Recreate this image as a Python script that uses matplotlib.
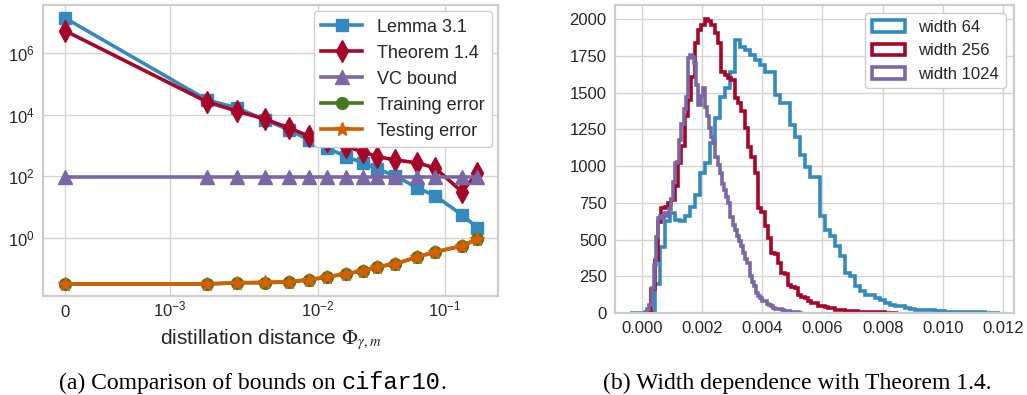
import numpy as np
import matplotlib
matplotlib.use("Agg")
import matplotlib.pyplot as plt
from matplotlib.ticker import NullLocator, FixedLocator

plt.rcParams['font.family'] = ['Liberation Sans', 'DejaVu Sans']
plt.rcParams['mathtext.fontset'] = 'custom'
plt.rcParams['mathtext.rm'] = 'Liberation Sans'
plt.rcParams['mathtext.it'] = 'Liberation Sans:italic'
plt.rcParams['mathtext.bf'] = 'Liberation Sans:bold'

# ---------------- data: (a) comparison of bounds ----------------
distance = [0, 1.78e-3, 2.84e-3, 4.38e-3, 6.37e-3, 8.69e-3, 1.18e-2, 1.66e-2,
            2.26e-2, 2.92e-2, 4.04e-2, 6.03e-2, 8.33e-2, 0.136, 0.179]
lemma31 = [1.4e7, 3.0e4, 1.66e4, 6.8e3, 3.2e3, 1.5e3, 830, 430, 270, 174,
           102, 42, 23, 5.5, 2.1]
theorem14 = [5.4e6, 2.6e4, 1.3e4, 7.2e3, 3.7e3, 2.0e3, 1.4e3, 910, 620, 430,
             340, 270, 186, 31, 129]
vc_bound = [95] * 15
train_err = [0.031, 0.031, 0.034, 0.034, 0.036, 0.042, 0.052, 0.066, 0.083,
             0.112, 0.138, 0.234, 0.339, 0.537, 0.912]
test_err = [0.031, 0.031, 0.034, 0.035, 0.037, 0.043, 0.053, 0.067, 0.084,
            0.113, 0.140, 0.236, 0.341, 0.540, 0.915]
series_labels = ['Lemma 3.1', 'Theorem 1.4', 'VC bound', 'Training error', 'Testing error']
xtick_vals = [0, 1e-3, 1e-2, 1e-1]
xtick_labels = ['0', '$10^{-3}$', '$10^{-2}$', '$10^{-1}$']
ytick_vals = [1, 1e2, 1e4, 1e6]
ytick_labels = ['$10^{0}$', '$10^{2}$', '$10^{4}$', '$10^{6}$']

# ---------------- data: (b) width dependence histograms ----------------
w64_start, w64_width = -0.00039, 0.0001658
w64_counts = [0, 0, 0, 0, 5, 200, 450, 623, 680, 635, 625, 660, 720, 800, 950,
              1020, 1157, 1325, 1473, 1531, 1644, 1859, 1814, 1791, 1757, 1723,
              1689, 1644, 1644, 1485, 1429, 1429, 1282, 1201, 1077, 997, 929,
              929, 660, 567, 521, 453, 385, 272, 249, 181, 147, 124, 124, 102,
              86, 70, 56, 45, 45, 34, 30, 22, 22, 20, 18, 15, 12, 10, 10, 8, 8,
              6, 5, 5, 4, 3, 3, 2]
w256_start, w256_width = 0.00021, 0.0001106
w256_counts = [5, 165, 360, 620, 714, 725, 748, 770, 862, 1020, 1134, 1338, 1450,
               1610, 1837, 1928, 1961, 2000, 1990, 1961, 1905, 1837, 1644, 1621,
               1600, 1587, 1463, 1429, 1372, 1259, 1133, 1065, 952, 714, 691,
               589, 510, 408, 400, 340, 272, 265, 193, 177, 170, 125, 110, 102,
               79, 70, 68, 50, 45, 42, 34, 32, 22, 20, 18, 16, 15, 13, 12, 10,
               9, 8, 7, 6, 5, 5, 4, 3, 3, 2, 2]
w1024_start, w1024_width = 0.000043, 0.0000708
w1024_counts = [3, 8, 25, 53, 170, 330, 520, 650, 660, 645, 680, 660, 705, 775,
                890, 1020, 1030, 1180, 1290, 1390, 1470, 1735, 1758, 1740, 1700,
                1550, 1415, 1480, 1531, 1405, 1338, 1260, 1201, 1157, 1065, 1010,
                952, 880, 839, 790, 748, 657, 600, 567, 521, 490, 453, 408, 370,
                340, 249, 210, 181, 136, 115, 102, 85, 79, 62, 56, 45, 34, 30,
                28, 24, 20, 16, 13, 11, 10, 8, 6, 5, 3, 2]
hist_labels = ['width 64', 'width 256', 'width 1024']
hist_xticks = [0.000, 0.002, 0.004, 0.006, 0.008, 0.010, 0.012]
hist_yticks = [0, 250, 500, 750, 1000, 1250, 1500, 1750, 2000]

colors = ['#348ABD', '#A60628', '#7A68A6', '#467821', '#D55E00']
W, H = 1027, 395

# custom x scale: linear near zero, log-like (uneven decades) above 1e-3
def fwd(x):
    x = np.asarray(x, dtype=float)
    lx = np.log10(np.maximum(x, 1e-3))
    part = np.interp(lx, [-3, -2, -1], [0, 148, 275]) + np.where(lx > -1, (lx + 1) * 127, 0)
    return np.where(x <= 1e-3, x * 105e3, 105 + part)

def inv(y):
    y = np.asarray(y, dtype=float)
    r = y - 105
    lx = np.where(r <= 148, -3 + r / 148, -2 + (r - 148) / 127)
    return np.where(y <= 105, y / 105e3, 10 ** np.clip(lx, -8, 8))

fig = plt.figure(figsize=(W / 100, H / 100), dpi=100)
ax1 = fig.add_axes([43 / W, 1 - 296 / H, 455 / W, 291 / H])
ax2 = fig.add_axes([615 / W, 1 - 313 / H, 399 / W, 308 / H])

for ax in (ax1, ax2):
    ax.set_facecolor('white')
    for s in ax.spines.values():
        s.set_color('#cccccc')
        s.set_linewidth(1.6)
    ax.grid(True, color='#d3d3d3', linewidth=1.0)
    ax.set_axisbelow(True)
    ax.tick_params(length=0, labelsize=12, labelcolor='#262626', pad=6)

# ---- left panel
ax1.set_xscale('function', functions=(fwd, inv))
ax1.set_yscale('log')
markers = ['s', 'd', '^', 'o', '*']
msizes = [9, 11, 9.5, 8.5, 10]
ys = [lemma31, theorem14, vc_bound, train_err, test_err]
for yv, c, m, ms, lab in zip(ys, colors, markers, msizes, series_labels):
    ax1.plot(distance, yv, color=c, marker=m, markersize=ms, linewidth=2.6,
             markeredgecolor=c, label=lab)
ax1.set_xlim(-2.1e-4, 0.261)
ax1.set_ylim(10 ** -1.90, 10 ** 7.57)
ax1.xaxis.set_major_locator(FixedLocator(xtick_vals))
ax1.xaxis.set_minor_locator(NullLocator())
ax1.set_xticklabels(xtick_labels, va='baseline')
ax1.tick_params(axis='x', pad=15)
ax1.yaxis.set_major_locator(FixedLocator(ytick_vals))
ax1.yaxis.set_minor_locator(NullLocator())
ax1.set_yticklabels(ytick_labels)
ax1.set_xlabel(r'distillation distance $\Phi_{\gamma,m}$', fontsize=15,
               color='#262626', labelpad=5, math_fontfamily='stix')
leg1 = ax1.legend(loc='upper right', fontsize=13, frameon=True, framealpha=1,
                  borderaxespad=0.35, handlelength=2.3)
leg1.get_frame().set_edgecolor('#cccccc')
leg1.get_frame().set_linewidth(1.0)
for t in leg1.get_texts():
    t.set_color('#262626')

# ---- right panel
hists = [(w64_start, w64_width, w64_counts), (w256_start, w256_width, w256_counts),
         (w1024_start, w1024_width, w1024_counts)]
for (st, wd, cnt), c, lab in zip(hists, colors[:3], hist_labels):
    n = len(cnt)
    edges = st + wd * np.arange(n + 1)
    centers = 0.5 * (edges[:-1] + edges[1:])
    ax2.hist(centers, bins=edges, weights=cnt, histtype='step', color=c,
             linewidth=2.6, label=lab)
ax2.set_xlim(-0.000886, 0.01236)
ax2.set_ylim(0, 2097)
ax2.set_xticks(hist_xticks)
ax2.set_xticklabels(['%.3f' % v for v in hist_xticks])
ax2.set_yticks(hist_yticks)
leg2 = ax2.legend(loc='upper right', fontsize=12, frameon=True, framealpha=1)
leg2.get_frame().set_edgecolor('#cccccc')
leg2.get_frame().set_linewidth(1.0)
for t in leg2.get_texts():
    t.set_color('#262626')

# ---- captions
renderer = fig.canvas.get_renderer()
def caption(parts, cx, base_y, size=17):
    texts = []
    for s, fam in parts:
        t = fig.text(0, 1 - base_y / H, s, family=fam, fontsize=size,
                     va='baseline', ha='left', color='black')
        texts.append(t)
    widths = [t.get_window_extent(renderer).width for t in texts]
    x = cx - sum(widths) / 2
    for t, w in zip(texts, widths):
        t.set_x(x / W)
        x += w

caption([('(a) Comparison of bounds on ', 'Liberation Serif'),
         ('cifar10', 'Liberation Mono'), ('.', 'Liberation Serif')], 253, 389)
caption([('(b) Width dependence with Theorem 1.4.', 'Liberation Serif')], 797, 389)

fig.savefig('out.png', dpi=100, facecolor='white')
